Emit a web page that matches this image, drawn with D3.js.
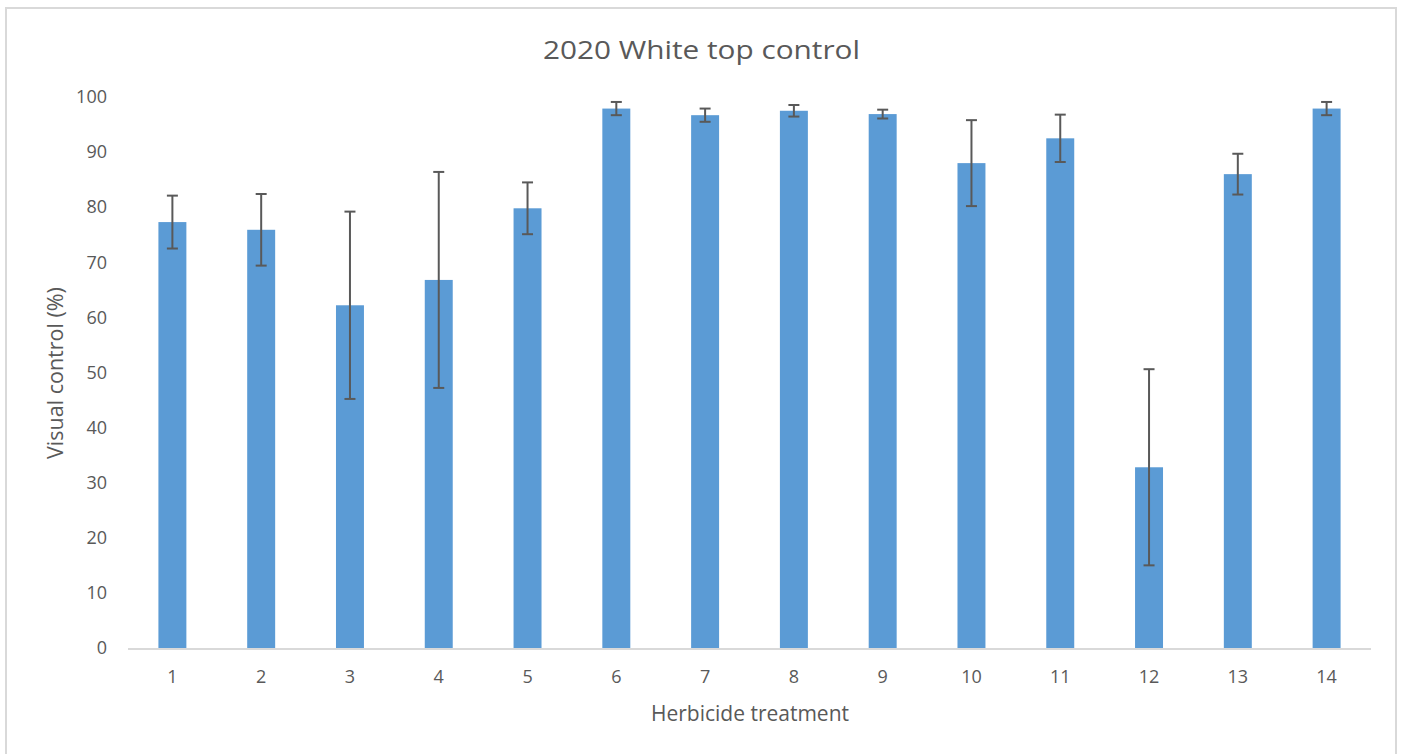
<!DOCTYPE html>
<html>
<head>
<meta charset="utf-8">
<script src="https://cdn.jsdelivr.net/npm/d3@7"></script>
<style>
  html, body { margin: 0; padding: 0; background: #fff; }
  svg { display: block; }
  text { font-family: "Open Sans", "Noto Sans", sans-serif; fill: #595959; }
</style>
</head>
<body>
<svg id="chart" width="1403" height="754"></svg>
<script>
const categories = ["1","2","3","4","5","6","7","8","9","10","11","12","13","14"];
const values = [77.3, 75.9, 62.2, 66.8, 79.8, 97.9, 96.7, 97.5, 96.9, 88.0, 92.5, 32.8, 86.0, 97.9];
const errors = [4.8, 6.5, 17.0, 19.6, 4.7, 1.2, 1.2, 1.05, 0.8, 7.8, 4.3, 17.8, 3.7, 1.2];
const yTicks = [0, 10, 20, 30, 40, 50, 60, 70, 80, 90, 100];
const chartTitle = "2020 White top control";
const xTitle = "Herbicide treatment";
const yTitle = "Visual control (%)";

const svg = d3.select("#chart");
const mLeft = 128, mRight = 1371, mTop = 97, mBottom = 648;

// chart border
svg.append("rect").attr("x", 6).attr("y", 8).attr("width", 1390).attr("height", 760)
  .attr("fill", "#fff").attr("stroke", "#d9d9d9").attr("stroke-width", 2);

const x = d3.scaleBand().domain(categories).range([mLeft, mRight]).paddingInner(0.685).paddingOuter(0.3425);
const y = d3.scaleLinear().domain([0, 100]).range([mBottom, mTop]);

// bars
svg.append("g").selectAll("rect").data(values).join("rect")
  .attr("x", (d, i) => x(categories[i]))
  .attr("y", d => y(d))
  .attr("width", x.bandwidth())
  .attr("height", d => y(0) - y(d))
  .attr("fill", "#5b9bd5");

// x axis
const xAxis = svg.append("g").attr("transform", `translate(0,${mBottom})`)
  .call(d3.axisBottom(x).tickSize(0).tickPadding(22));
xAxis.select(".domain").attr("stroke", "#d9d9d9").attr("stroke-width", 2)
  .attr("d", `M${mLeft},1H${mRight}`);
xAxis.selectAll("text").attr("font-size", 18).attr("fill", "#595959")
  .style("font-family", '"Open Sans", sans-serif');

// error bars
const eb = svg.append("g").attr("stroke", "#595959").attr("stroke-width", 2).attr("fill", "none");
values.forEach((v, i) => {
  const cx = x(categories[i]) + x.bandwidth() / 2;
  const y1 = y(v + errors[i]), y2 = y(v - errors[i]);
  eb.append("line").attr("x1", cx).attr("x2", cx).attr("y1", y1).attr("y2", y2);
  eb.append("line").attr("x1", cx - 5.5).attr("x2", cx + 5.5).attr("y1", y1).attr("y2", y1);
  eb.append("line").attr("x1", cx - 5.5).attr("x2", cx + 5.5).attr("y1", y2).attr("y2", y2);
});

// y axis
const yAxis = svg.append("g").attr("transform", `translate(${mLeft},0)`)
  .call(d3.axisLeft(y).tickValues(yTicks).tickSize(0).tickPadding(21));
yAxis.select(".domain").remove();
yAxis.selectAll("text").attr("font-size", 18).attr("fill", "#595959")
  .style("font-family", '"Open Sans", sans-serif');

// titles
svg.append("text").attr("x", 701.5).attr("y", 59).attr("text-anchor", "middle")
  .attr("font-size", 26).attr("textLength", 317).attr("lengthAdjust", "spacingAndGlyphs")
  .text(chartTitle);
svg.append("text").attr("x", 750).attr("y", 721).attr("text-anchor", "middle")
  .attr("font-size", 21).text(xTitle);
svg.append("text").attr("transform", "translate(63,373) rotate(-90)").attr("text-anchor", "middle")
  .attr("font-size", 21.5).text(yTitle);
</script>
</body>
</html>
